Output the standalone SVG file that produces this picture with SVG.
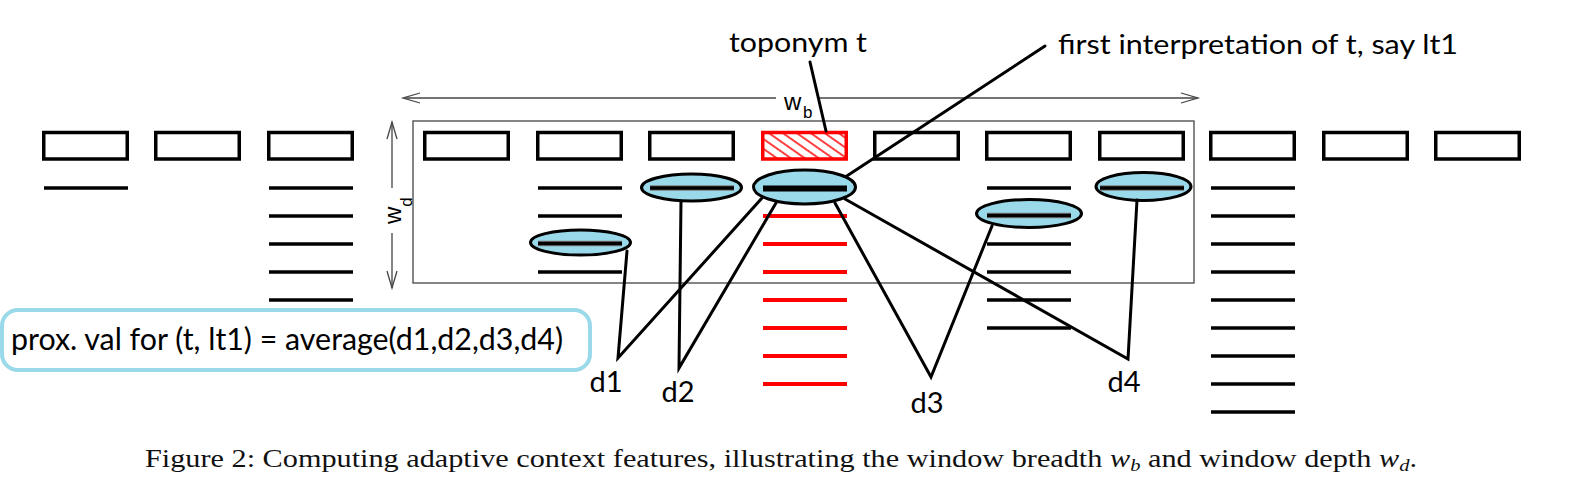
<svg xmlns="http://www.w3.org/2000/svg" width="1574" height="487" viewBox="0 0 1574 487">
<style>
.box{fill:#fff;stroke:#000;stroke-width:3.5}
.ln{stroke:#000;stroke-width:3.5}
.rl{stroke:#ff0000;stroke-width:3.8}
.halo{stroke:#7a7a7a;stroke-width:5.5}
.ell{fill:#99d9ea;stroke:#000;stroke-width:3}
.con{stroke:#000;stroke-width:3;fill:none;stroke-linecap:round}
.thin{stroke:#444;stroke-width:1.3;fill:none}
.lab{font-family:Lato,"Open Sans",sans-serif;fill:#000}
.hel{font-family:"Liberation Sans",Arial,sans-serif;fill:#000}
.cap{font-family:"Liberation Serif","Times New Roman",serif;fill:#111}
</style>
<defs>
<pattern id="hatch" patternUnits="userSpaceOnUse" width="9" height="8" patternTransform="rotate(35)">
<line x1="0" y1="4" x2="9" y2="4" stroke="#ff0000" stroke-width="1.5"/>
</pattern>
</defs>
<rect width="1574" height="487" fill="#fff"/>

<g id="window">
<rect x="413" y="121" width="781" height="162" class="thin"/>
<line x1="404" y1="98" x2="776" y2="98" class="thin"/>
<line x1="818" y1="98" x2="1198" y2="98" class="thin"/>
<polyline points="420,93 403,98 420,103" class="thin"/>
<polyline points="1181,93 1198,98 1181,103" class="thin"/>
<text x="784" y="110" class="hel" font-size="24">w</text>
<text x="803" y="117.5" class="hel" font-size="17">b</text>
<line x1="392" y1="122" x2="392" y2="188" class="thin"/>
<line x1="392" y1="233" x2="392" y2="288" class="thin"/>
<polyline points="387,139 392,122 397,139" class="thin"/>
<polyline points="387,271 392,288 397,271" class="thin"/>
<text transform="translate(401,224) rotate(-90)" class="hel" font-size="24">w<tspan font-size="17" dy="11">d</tspan></text>
</g>

<g id="col1"><rect class="box" x="43.75" y="132.5" width="83.5" height="26.5"/><line class="ln" x1="44" y1="188" x2="128" y2="188"/></g>
<g id="col2"><rect class="box" x="155.75" y="132.5" width="83.5" height="26.5"/></g>
<g id="col3"><rect class="box" x="268.75" y="132.5" width="83.5" height="26.5"/>
<line class="ln" x1="269" y1="188" x2="353" y2="188"/><line class="ln" x1="269" y1="216" x2="353" y2="216"/><line class="ln" x1="269" y1="244" x2="353" y2="244"/><line class="ln" x1="269" y1="272" x2="353" y2="272"/><line class="ln" x1="269" y1="300" x2="353" y2="300"/></g>
<g id="col4"><rect class="box" x="424.75" y="132.5" width="83.5" height="26.5"/></g>
<g id="col5"><rect class="box" x="537.75" y="132.5" width="83.5" height="26.5"/>
<line class="ln" x1="538" y1="188" x2="622" y2="188"/><line class="ln" x1="538" y1="216" x2="622" y2="216"/><line class="ln" x1="538" y1="272" x2="622" y2="272"/>
<ellipse class="ell" cx="580.5" cy="242.5" rx="50" ry="12.5"/>
<line class="halo" x1="538" y1="243.5" x2="622" y2="243.5"/><line class="ln" x1="538" y1="243.5" x2="622" y2="243.5"/></g>
<g id="col6"><rect class="box" x="649.75" y="132.5" width="83.5" height="26.5"/>
<ellipse class="ell" cx="691.5" cy="187.5" rx="50" ry="13.5"/>
<line class="halo" x1="650" y1="188" x2="734" y2="188"/><line class="ln" x1="650" y1="188" x2="734" y2="188"/></g>
<g id="col7-toponym"><rect x="762.75" y="132.5" width="83.5" height="26.5" fill="url(#hatch)" stroke="#ff0000" stroke-width="3.5"/>
<line class="rl" x1="763" y1="216" x2="847" y2="216"/><line class="rl" x1="763" y1="244" x2="847" y2="244"/><line class="rl" x1="763" y1="272" x2="847" y2="272"/><line class="rl" x1="763" y1="300" x2="847" y2="300"/><line class="rl" x1="763" y1="328" x2="847" y2="328"/><line class="rl" x1="763" y1="356" x2="847" y2="356"/><line class="rl" x1="763" y1="384" x2="847" y2="384"/>
<ellipse class="ell" cx="804.5" cy="187" rx="51" ry="17"/>
<line x1="763" y1="188.5" x2="847" y2="188.5" stroke="#000" stroke-width="6"/></g>
<g id="col8"><rect class="box" x="874.75" y="132.5" width="83.5" height="26.5"/></g>
<g id="col9"><rect class="box" x="986.75" y="132.5" width="83.5" height="26.5"/>
<line class="ln" x1="987" y1="188" x2="1071" y2="188"/><line class="ln" x1="987" y1="244" x2="1071" y2="244"/><line class="ln" x1="987" y1="272" x2="1071" y2="272"/><line class="ln" x1="987" y1="300" x2="1071" y2="300"/><line class="ln" x1="987" y1="328" x2="1071" y2="328"/>
<ellipse class="ell" cx="1029" cy="213.5" rx="52.5" ry="14"/>
<line class="halo" x1="987" y1="215.5" x2="1071" y2="215.5"/><line class="ln" x1="987" y1="215.5" x2="1071" y2="215.5"/></g>
<g id="col10"><rect class="box" x="1099.75" y="132.5" width="83.5" height="26.5"/>
<ellipse class="ell" cx="1143.5" cy="186.5" rx="47.5" ry="14"/>
<line class="halo" x1="1100" y1="188" x2="1184" y2="188"/><line class="ln" x1="1100" y1="188" x2="1184" y2="188"/></g>
<g id="col11"><rect class="box" x="1210.75" y="132.5" width="83.5" height="26.5"/>
<line class="ln" x1="1211" y1="188" x2="1295" y2="188"/><line class="ln" x1="1211" y1="216" x2="1295" y2="216"/><line class="ln" x1="1211" y1="244" x2="1295" y2="244"/><line class="ln" x1="1211" y1="272" x2="1295" y2="272"/><line class="ln" x1="1211" y1="300" x2="1295" y2="300"/><line class="ln" x1="1211" y1="328" x2="1295" y2="328"/><line class="ln" x1="1211" y1="356" x2="1295" y2="356"/><line class="ln" x1="1211" y1="384" x2="1295" y2="384"/><line class="ln" x1="1211" y1="412" x2="1295" y2="412"/></g>
<g id="col12"><rect class="box" x="1323.75" y="132.5" width="83.5" height="26.5"/></g>
<g id="col13"><rect class="box" x="1435.75" y="132.5" width="83.5" height="26.5"/></g>

<g id="connectors">
<line class="con" x1="810" y1="62" x2="826" y2="131"/>
<line class="con" x1="1045" y1="46" x2="846" y2="176.5"/>
<polyline class="con" points="627,251 618,358 762,198"/>
<polyline class="con" points="681,201 679,368 776,203"/>
<polyline class="con" points="835,203 931,377 992,226"/>
<polyline class="con" points="845,199 1128,359 1137,200"/>
</g>

<g id="proximity">
<rect x="2" y="310" width="588" height="60" rx="16" fill="none" stroke="#99d9ea" stroke-width="4"/>
<text x="11" y="350" class="lab" font-size="30" textLength="552" lengthAdjust="spacingAndGlyphs">prox. val for (t, lt1) = average(d1,d2,d3,d4)</text>
</g>

<g id="labels">
<text x="729" y="52" class="lab" font-size="27" textLength="138" lengthAdjust="spacingAndGlyphs">toponym t</text>
<text x="1058" y="54" class="lab" font-size="27" textLength="400" lengthAdjust="spacingAndGlyphs">first interpretation of t, say lt1</text>
<text x="606" y="392" class="lab" font-size="29" text-anchor="middle">d1</text>
<text x="678" y="402" class="lab" font-size="29" text-anchor="middle">d2</text>
<text x="927" y="413" class="lab" font-size="29" text-anchor="middle">d3</text>
<text x="1124" y="392" class="lab" font-size="29" text-anchor="middle">d4</text>
</g>

<text x="145" y="467" class="cap" font-size="25" textLength="1272" lengthAdjust="spacingAndGlyphs">Figure 2: Computing adaptive context features, illustrating the window breadth <tspan font-style="italic">w</tspan><tspan font-size="17" dy="4" font-style="italic">b</tspan><tspan dy="-4"> and window depth </tspan><tspan font-style="italic">w</tspan><tspan font-size="17" dy="4" font-style="italic">d</tspan><tspan dy="-4">.</tspan></text>
</svg>
